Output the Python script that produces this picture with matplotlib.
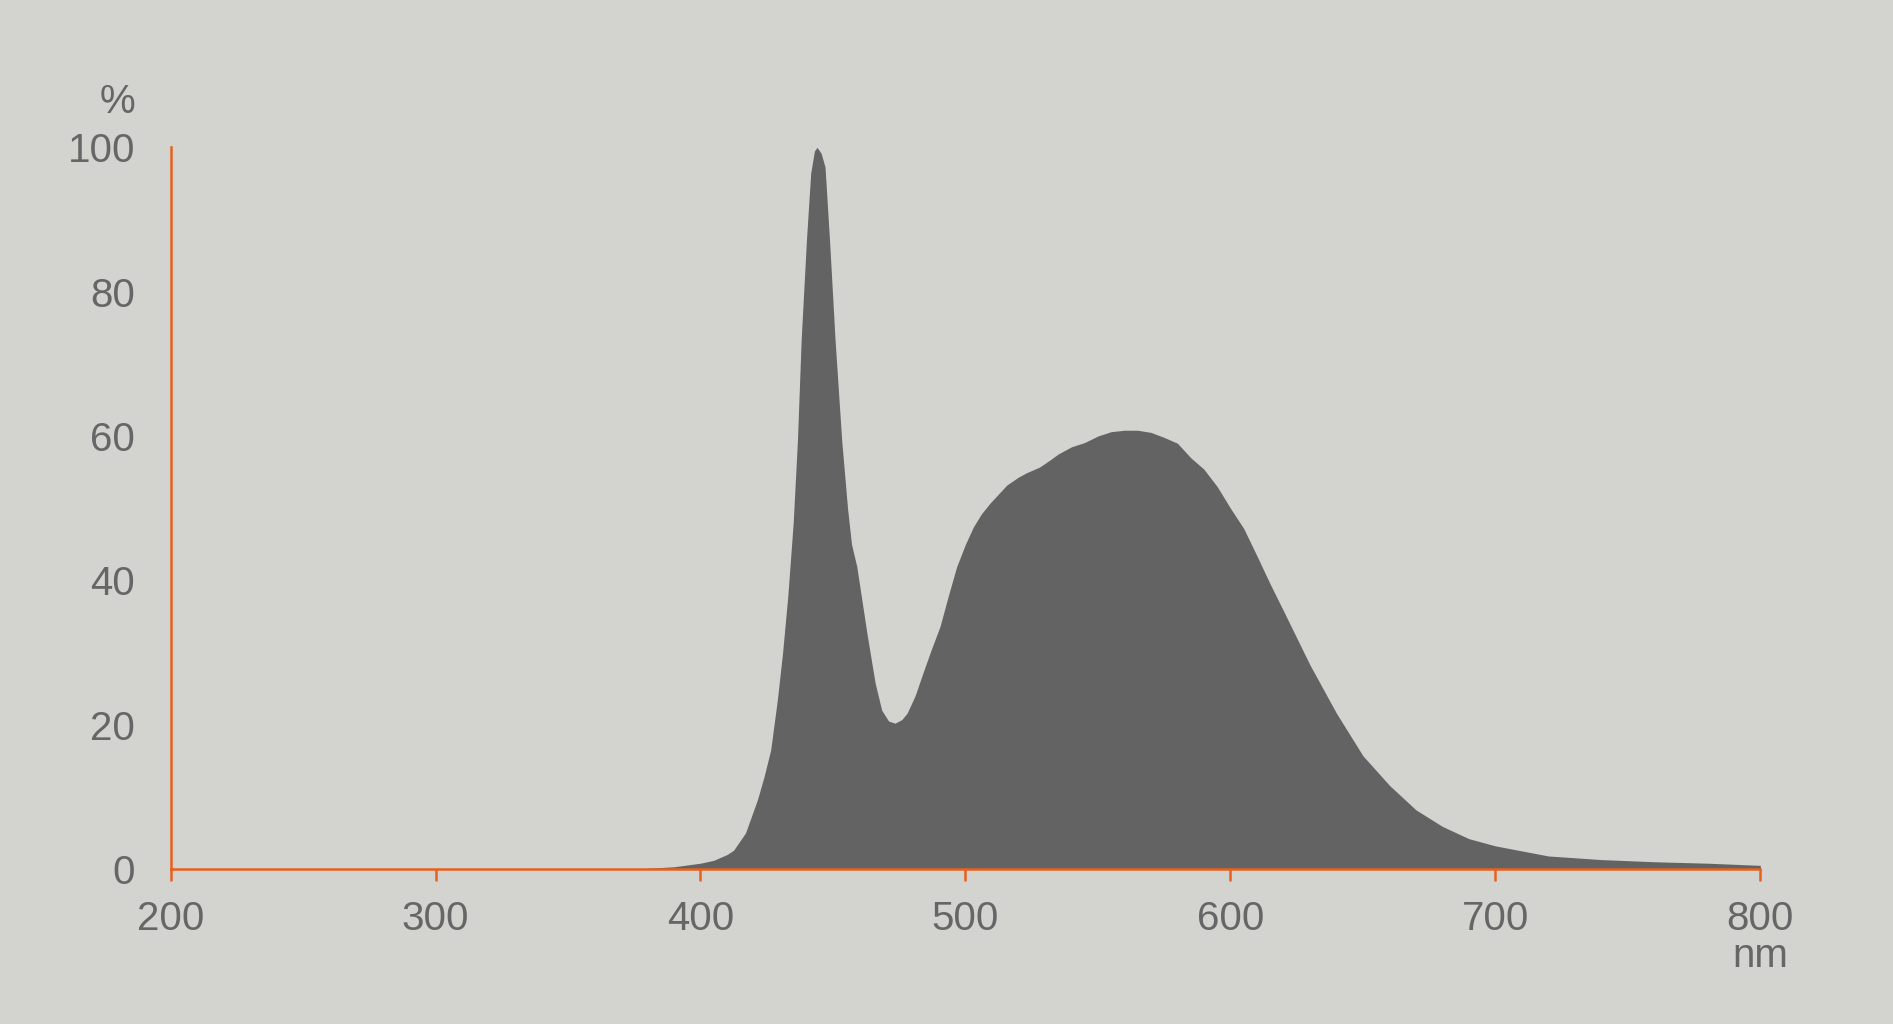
import matplotlib
matplotlib.use('Agg')
import matplotlib.pyplot as plt
import matplotlib.ticker as ticker

# spectrum (nm, %)
wavelength = [380, 390, 400, 405, 410, 412.5, 417, 421.5, 424, 426.5, 429, 431, 433,
              435, 436.6, 438, 440, 441.6, 443, 444, 445.5, 447, 448.7, 450.8, 453.3,
              455.5, 457, 459, 462.8, 465.9, 468.4, 471, 473.4, 476, 478, 481, 484,
              487, 490.4, 493.5, 496.7, 500, 503, 506, 509.3, 515.6, 520, 523, 528,
              532, 535, 540, 545, 550, 555, 560, 565, 570, 575, 580, 585, 590, 595,
              600, 605, 610, 615, 620, 630, 640, 650, 660, 670, 680, 690, 700, 720,
              740, 760, 780, 800]
intensity = [0.1, 0.3, 0.8, 1.2, 2.0, 2.6, 5.0, 9.6, 12.8, 16.5, 23.4, 30.0, 38.0,
             48.0, 59.4, 73.3, 87.2, 96.4, 99.5, 100.0, 99.2, 97.3, 87.2, 73.3, 59.4,
             50.0, 45.0, 41.9, 32.7, 25.8, 22.0, 20.5, 20.2, 20.7, 21.6, 24.0, 27.2,
             30.3, 33.6, 37.8, 41.9, 45.0, 47.4, 49.2, 50.7, 53.2, 54.3, 54.9, 55.7,
             56.7, 57.5, 58.5, 59.1, 60.0, 60.6, 60.8, 60.8, 60.5, 59.8, 59.0, 57.0,
             55.4, 53.0, 50.0, 47.2, 43.4, 39.5, 35.8, 28.3, 21.6, 15.7, 11.6, 8.2,
             5.9, 4.2, 3.2, 1.8, 1.3, 1.0, 0.8, 0.5]

x_ticks = [200, 300, 400, 500, 600, 700, 800]
y_ticks = [0, 20, 40, 60, 80, 100]

bg = '#d3d4cf'
orange = '#e8601c'
text_color = '#666666'
plt.rcParams['font.family'] = ['Liberation Sans', 'DejaVu Sans']

fig = plt.figure(figsize=(18.93, 10.24), dpi=100, facecolor=bg)
ax = fig.add_axes([0.0901, 0.1514, 0.8398, 0.7047])
ax.set_facecolor(bg)

ax.fill_between(wavelength, intensity, 0, color='#636363', linewidth=0, clip_on=False)

ax.set_xlim(200, 800)
ax.set_ylim(0, 100)
ax.xaxis.set_major_locator(ticker.FixedLocator(x_ticks))
ax.yaxis.set_major_locator(ticker.FixedLocator(y_ticks))

for side in ['top', 'right']:
    ax.spines[side].set_visible(False)
for side in ['left', 'bottom']:
    ax.spines[side].set_color(orange)
    ax.spines[side].set_linewidth(1.8)

ax.tick_params(axis='x', direction='out', length=8.6, width=1.8, color=orange,
               pad=14, labelsize=29, labelcolor=text_color)
ax.tick_params(axis='y', length=0, pad=25.5, labelsize=29, labelcolor=text_color)

ax.annotate('%', xy=(200, 100), xycoords='data', xytext=(-25.5, 33),
            textcoords='offset points', ha='right', va='center',
            fontsize=29, color=text_color)
ax.annotate('nm', xy=(800, 0), xycoords='data', xytext=(0, -63),
            textcoords='offset points', ha='center', va='center',
            fontsize=29, color=text_color, annotation_clip=False)

fig.savefig('out.png', dpi=100, facecolor=bg)
